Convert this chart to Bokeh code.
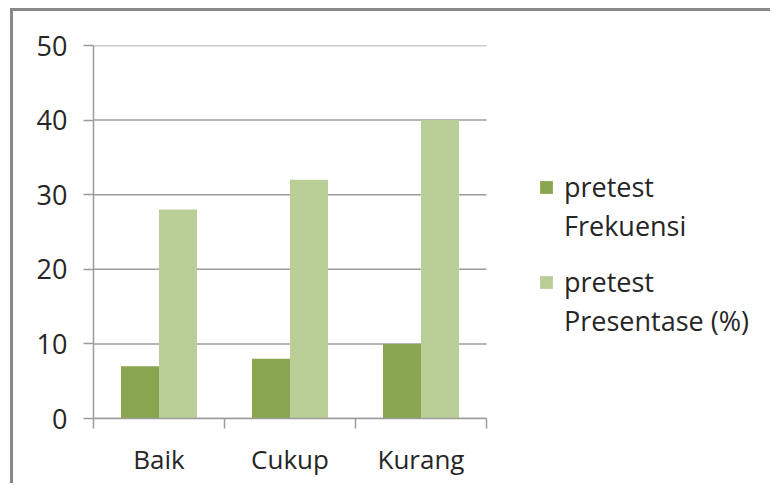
from bokeh.plotting import figure
from bokeh.models import Range1d, FixedTicker, Legend, LegendItem, ColumnDataSource
from bokeh.transform import dodge
from bokeh.embed import file_html
from bokeh.resources import INLINE

categories = ["Baik", "Cukup", "Kurang"]
frekuensi = [7, 8, 10]
presentase = [28, 32, 40]
series_names = [["pretest", "Frekuensi"], ["pretest", "Presentase (%)"]]
y_ticks = [0, 10, 20, 30, 40, 50]

dark = "#8AA54F"
light = "#BACF98"
grid_col = "#9C9C9C"
text_col = "#262626"
font = "Open Sans"

n = len(categories)
centers = [i + 0.5 for i in range(n)]
src = ColumnDataSource(dict(x=centers, f=frekuensi, p=presentase))

# frame spans to the right edge so the legend is drawn inside it;
# 393 px per 3 categories
W, H = 760, 475
left_b, right_b = 80, 10
frame_w = W - left_b - right_b
x_end = frame_w * n / 393.0

p = figure(width=W, height=H, x_range=Range1d(0, x_end), y_range=Range1d(0, 50),
           output_backend="svg", toolbar_location=None,
           min_border_left=left_b, min_border_right=right_b, min_border_top=34, min_border_bottom=68)
p.outline_line_color = None
p.background_fill_color = "white"
p.border_fill_color = "white"
p.styles = {"border-top": "3px solid #888888", "border-left": "3px solid #888888",
            "margin-left": "10px", "margin-top": "8px"}

# horizontal gridlines limited to the category area
grid_src = ColumnDataSource(dict(y=y_ticks, x0=[0] * len(y_ticks), x1=[n] * len(y_ticks)))
p.segment(x0="x0", x1="x1", y0="y", y1="y", source=grid_src, line_color=grid_col, line_width=1.5)
p.grid.visible = False

r1 = p.vbar(x=dodge("x", -0.145, range=p.x_range), top="f", width=0.29, source=src,
            fill_color=dark, line_color=None)
r2 = p.vbar(x=dodge("x", 0.145, range=p.x_range), top="p", width=0.29, source=src,
            fill_color=light, line_color=None)

# x axis: labels at centers, ticks at boundaries
xa = p.xaxis[0]
xa.bounds = (0, n)
xa.ticker = FixedTicker(ticks=centers, minor_ticks=list(range(n + 1)))
xa.major_label_overrides = {c: name for c, name in zip(centers, categories)}
xa.major_tick_out = 0
xa.major_tick_in = 0
xa.minor_tick_out = 10
xa.minor_tick_in = 0
xa.minor_tick_line_color = grid_col
xa.minor_tick_line_width = 1.5
xa.axis_line_color = grid_col
xa.axis_line_width = 1.5
xa.major_label_text_font = font
xa.major_label_text_font_size = "26px"
xa.major_label_text_color = text_col
xa.major_label_standoff = 12

ya = p.yaxis[0]
ya.ticker = FixedTicker(ticks=y_ticks, minor_ticks=[])
ya.major_tick_out = 10
ya.major_tick_in = 0
ya.major_tick_line_color = grid_col
ya.major_tick_line_width = 1.5
ya.axis_line_color = grid_col
ya.axis_line_width = 1.5
ya.major_label_text_font = font
ya.major_label_text_font_size = "27px"
ya.major_label_text_color = text_col
ya.major_label_standoff = 16


def make_legend(names, renderer, loc):
    lg = Legend(items=[LegendItem(label=names[0], renderers=[renderer]),
                       LegendItem(label=names[1], renderers=[])],
                location=loc)
    lg.border_line_color = None
    lg.background_fill_alpha = 0
    lg.margin = 0
    lg.padding = 0
    lg.glyph_width = 16
    lg.glyph_height = 16
    lg.label_standoff = 10
    lg.spacing = 0
    lg.label_height = 39
    lg.label_text_font = font
    lg.label_text_font_size = "27px"
    lg.label_text_color = text_col
    return lg


p.add_layout(make_legend(series_names[0], r1, (445, 173)))
p.add_layout(make_legend(series_names[1], r2, (445, 78)))

open("out.html", "w").write(file_html(p, INLINE))
